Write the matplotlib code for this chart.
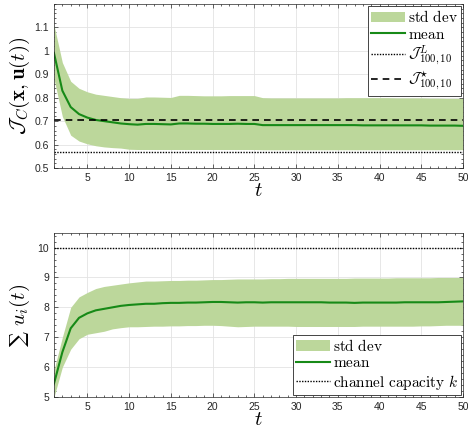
import matplotlib
matplotlib.use('Agg')
import matplotlib.pyplot as plt
from matplotlib.ticker import AutoMinorLocator

plt.rcParams['mathtext.fontset'] = 'cm'
plt.rcParams['font.family'] = ['Liberation Sans', 'DejaVu Sans']

t = list(range(1, 51))

# panel 1: cost J_C
cost_mean = [0.990, 0.830, 0.760, 0.730, 0.715, 0.705, 0.700, 0.695, 0.690, 0.687,
             0.685, 0.688, 0.688, 0.687, 0.686, 0.690, 0.690, 0.689, 0.689, 0.688,
             0.688, 0.688, 0.689, 0.688, 0.688, 0.683, 0.683, 0.683, 0.683, 0.683,
             0.683, 0.683, 0.683, 0.683, 0.683, 0.683, 0.683, 0.682, 0.682, 0.682,
             0.682, 0.682, 0.682, 0.682, 0.682, 0.681, 0.681, 0.681, 0.681, 0.680]
cost_hi = [1.110, 0.950, 0.870, 0.840, 0.825, 0.815, 0.810, 0.805, 0.800, 0.797,
           0.797, 0.803, 0.803, 0.802, 0.801, 0.810, 0.810, 0.809, 0.808, 0.808,
           0.808, 0.809, 0.809, 0.809, 0.809, 0.800, 0.799, 0.799, 0.799, 0.799,
           0.799, 0.799, 0.799, 0.799, 0.799, 0.800, 0.800, 0.800, 0.800, 0.800,
           0.800, 0.799, 0.799, 0.799, 0.799, 0.798, 0.798, 0.797, 0.797, 0.797]
cost_lo = [0.880, 0.720, 0.640, 0.615, 0.603, 0.595, 0.590, 0.587, 0.585, 0.580,
           0.579, 0.579, 0.579, 0.579, 0.579, 0.579, 0.579, 0.579, 0.579, 0.579,
           0.579, 0.579, 0.579, 0.579, 0.579, 0.578, 0.578, 0.578, 0.578, 0.578,
           0.578, 0.578, 0.578, 0.578, 0.578, 0.578, 0.578, 0.578, 0.578, 0.578,
           0.578, 0.578, 0.578, 0.578, 0.578, 0.578, 0.578, 0.578, 0.578, 0.578]
J_lower = 0.567
J_star = 0.703

# panel 2: sum of u_i
u_mean = [5.45, 6.50, 7.30, 7.65, 7.80, 7.90, 7.95, 8.00, 8.05, 8.08,
          8.10, 8.12, 8.12, 8.14, 8.15, 8.15, 8.16, 8.16, 8.17, 8.18,
          8.18, 8.17, 8.16, 8.17, 8.17, 8.16, 8.17, 8.17, 8.17, 8.17,
          8.17, 8.17, 8.17, 8.16, 8.16, 8.16, 8.15, 8.16, 8.16, 8.16,
          8.16, 8.16, 8.17, 8.17, 8.17, 8.17, 8.17, 8.18, 8.19, 8.20]
u_hi = [5.90, 7.00, 8.00, 8.35, 8.50, 8.63, 8.70, 8.74, 8.78, 8.82,
        8.85, 8.88, 8.88, 8.89, 8.90, 8.90, 8.91, 8.91, 8.92, 8.93,
        8.93, 8.94, 8.95, 8.95, 8.95, 8.95, 8.96, 8.96, 8.97, 8.97,
        8.97, 8.97, 8.97, 8.97, 8.97, 8.97, 8.98, 8.98, 8.98, 8.98,
        8.98, 8.99, 8.99, 8.99, 8.99, 8.99, 9.00, 9.00, 9.00, 9.00]
u_lo = [5.00, 6.00, 6.60, 6.95, 7.10, 7.15, 7.20, 7.28, 7.32, 7.35,
        7.35, 7.36, 7.37, 7.37, 7.38, 7.38, 7.39, 7.39, 7.40, 7.40,
        7.39, 7.37, 7.35, 7.36, 7.37, 7.37, 7.37, 7.37, 7.37, 7.36,
        7.36, 7.36, 7.36, 7.36, 7.36, 7.36, 7.36, 7.37, 7.37, 7.37,
        7.37, 7.37, 7.37, 7.37, 7.38, 7.38, 7.39, 7.40, 7.40, 7.40]
capacity = 10

fill_c = '#bcd79b'
line_c = '#178a17'


def style(ax):
    ax.set_xlim(1, 50)
    ax.set_xticks(range(5, 51, 5))
    ax.xaxis.set_minor_locator(AutoMinorLocator(5))
    ax.yaxis.set_minor_locator(AutoMinorLocator(5))
    ax.tick_params(which='both', direction='in', top=True, right=True,
                   labelsize=7.5, colors='#262626', width=0.5)
    ax.tick_params(which='major', length=3)
    ax.tick_params(which='minor', length=1.6)
    ax.grid(True, which='major', color='#e3e3e3', linewidth=0.6)
    ax.set_axisbelow(True)
    for s in ax.spines.values():
        s.set_color('#262626')
        s.set_linewidth(0.5)
    ax.set_xlabel(r'$t$', fontsize=15, labelpad=-1)


def legend(ax, loc):
    leg = ax.legend(loc=loc, fontsize=11, fancybox=False, framealpha=1,
                    borderaxespad=0.15, handlelength=2.2, handletextpad=0.2,
                    labelspacing=0.15, borderpad=0.2)
    leg.get_frame().set_edgecolor('#262626')
    leg.get_frame().set_linewidth(0.6)


fig = plt.figure(figsize=(4.68, 4.34), dpi=100)

ax1 = fig.add_axes([0.1154, 0.6129, 0.874, 0.378])
ax1.fill_between(t, cost_lo, cost_hi, color=fill_c, linewidth=0, label=r'$\mathrm{std\ dev}$')
ax1.plot(t, cost_mean, color=line_c, linewidth=1.5, label=r'$\mathrm{mean}$')
ax1.axhline(J_lower, color='black', linestyle=(0, (1, 1)), linewidth=1.0,
            label=r'$\mathcal{J}^{L}_{100,10}$')
ax1.axhline(J_star, color='black', linestyle=(0, (4, 3)), linewidth=1.2,
            label=r'$\mathcal{J}^{\star}_{100,10}$')
ax1.set_ylim(0.5, 1.2)
ax1.set_yticks([0.5, 0.6, 0.7, 0.8, 0.9, 1.0, 1.1])
ax1.set_yticklabels(['0.5', '0.6', '0.7', '0.8', '0.9', '1', '1.1'])
style(ax1)
ax1.set_ylabel(r'$\mathcal{J}_C(\mathbf{x},\mathbf{u}(t))$', fontsize=15, labelpad=2)
legend(ax1, 'upper right')

ax2 = fig.add_axes([0.1154, 0.0853, 0.874, 0.3786])
ax2.fill_between(t, u_lo, u_hi, color=fill_c, linewidth=0, label=r'$\mathrm{std\ dev}$')
ax2.plot(t, u_mean, color=line_c, linewidth=1.5, label=r'$\mathrm{mean}$')
ax2.axhline(capacity, color='black', linestyle=(0, (1, 1)), linewidth=1.0,
            label=r'$\mathrm{channel\ capacity}\ k$')
ax2.set_ylim(5, 10.5)
ax2.set_yticks(range(5, 11))
style(ax2)
ax2.set_ylabel('\u2211 $u_i(t)$', fontsize=15, labelpad=4, family=['DejaVu Serif'])
legend(ax2, 'lower right')

fig.savefig('out.png', dpi=100)
